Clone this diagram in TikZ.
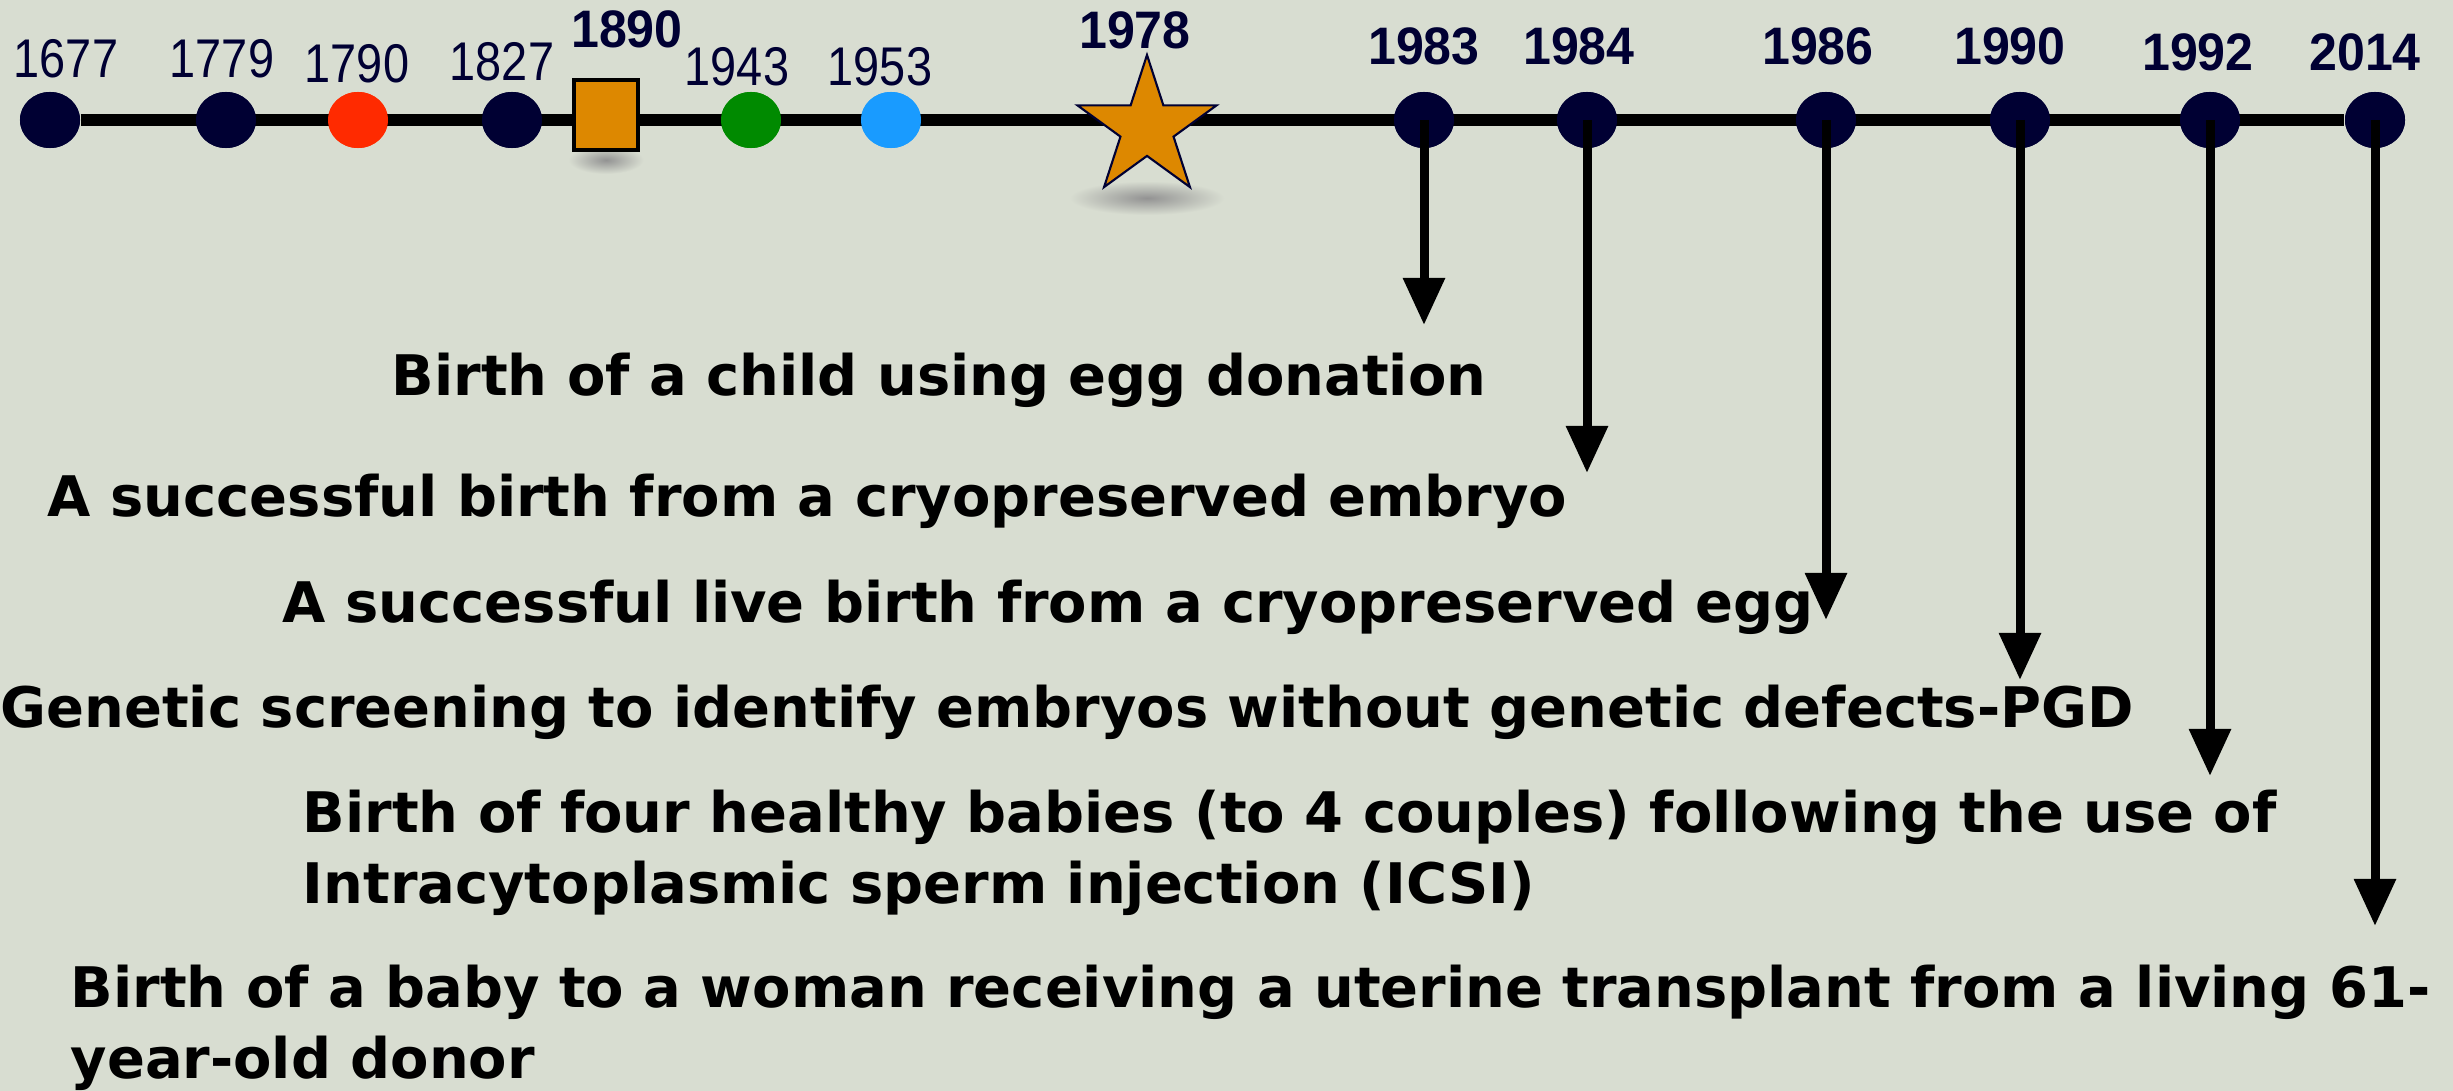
\documentclass[tikz,border=0pt]{standalone}
\usepackage{fontspec}
\usepackage{xcolor}
\usepackage{tikz}
\usetikzlibrary{shapes.geometric, arrows.meta}
\setmainfont{DejaVu Sans}
\newfontfamily\yearfont[FakeStretch=0.86]{Liberation Sans}
\newfontfamily\yearbold[FakeStretch=0.95]{Liberation Sans Bold}
\definecolor{bg}{RGB}{216,221,209}
\definecolor{navy}{RGB}{0,0,51}
\definecolor{dotred}{RGB}{255,42,0}
\definecolor{dotgreen}{RGB}{0,138,0}
\definecolor{dotblue}{RGB}{25,155,255}
\definecolor{gold}{RGB}{221,136,0}
\tikzstyle{dot} = [ellipse, minimum width=0.60cm, minimum height=0.56cm, inner sep=0, fill=navy]
\tikzstyle{year} = [font=\yearfont\fontsize{15.5}{15.5}\selectfont, text=navy, inner sep=0]
\tikzstyle{bigyear} = [font=\yearbold\fontsize{15}{15}\selectfont, text=navy, inner sep=0]
\tikzstyle{event} = [font=\bfseries\fontsize{15.9}{20.2}\selectfont, anchor=west, align=left, inner sep=0]
\tikzstyle{timeline} = [line width=0.12cm, black]
\tikzstyle{arrow} = [line width=0.09cm, -{Triangle[width=0.40cm, length=0.47cm]}]
\tikzstyle{groundshadow} = [ellipse, inner sep=0, shading=radial, inner color=gray!85, outer color=bg]

\begin{document}
\begin{tikzpicture}[x=0.01cm, y=-0.01cm]
\fill [bg] (0,0) rectangle (2453,1091);
\useasboundingbox (0,0) rectangle (2453,1091);

\node [groundshadow, minimum width=0.75cm, minimum height=0.28cm] at (606,160) {};
\node [groundshadow, minimum width=1.55cm, minimum height=0.34cm] at (1147,198) {};

\node (d1677) [dot] at (50,120) {};
\node (d1779) [dot] at (226,120) {};
\node (d1790) [dot, fill=dotred] at (358,120) {};
\node (d1827) [dot] at (512,120) {};
\node (d1943) [dot, fill=dotgreen] at (751,120) {};
\node (d1953) [dot, fill=dotblue] at (891,120) {};
\node (d1983) [dot] at (1424,120) {};
\node (d1984) [dot] at (1587,120) {};
\node (d1986) [dot] at (1826,120) {};
\node (d1990) [dot] at (2020,120) {};
\node (d1992) [dot] at (2210,120) {};
\node (d2014) [dot] at (2375,120) {};

\draw [timeline] (d1677) -- (d2014);
\foreach \d/\c in {1677/navy, 1779/navy, 1790/dotred, 1827/navy, 1943/dotgreen, 1953/dotblue, 1983/navy, 1984/navy, 1986/navy, 1990/navy, 1992/navy, 2014/navy}
  \fill [\c] (d\d.center) ellipse [x radius=30, y radius=28];

\node (s1890) [rectangle, minimum width=0.64cm, minimum height=0.70cm, inner sep=0, fill=gold, draw=black, line width=1.2pt] at (606,115) {};
\node (s1978) [star, star points=5, star point ratio=2.618, minimum size=1.46cm, inner sep=0, fill=gold, draw=navy, line width=0.6pt] at (1147,128) {};

\node (y1677) [year] at (66,59) {1677};
\node (y1779) [year] at (222,59) {1779};
\node (y1790) [year] at (357,64) {1790};
\node (y1827) [year] at (502,62) {1827};
\node (y1890) [bigyear] at (627,29) {1890};
\node (y1943) [year] at (737,67) {1943};
\node (y1953) [year] at (880,67) {1953};
\node (y1978) [bigyear] at (1135,30) {1978};
\node (y1983) [bigyear] at (1424,46) {1983};
\node (y1984) [bigyear] at (1579,46) {1984};
\node (y1986) [bigyear] at (1818,46) {1986};
\node (y1990) [bigyear] at (2010,46) {1990};
\node (y1992) [bigyear] at (2198,52) {1992};
\node (y2014) [bigyear] at (2365,52) {2014};

\coordinate (a1983) at (1424,325);
\coordinate (a1984) at (1587,473);
\coordinate (a1986) at (1826,620);
\coordinate (a1990) at (2020,680);
\coordinate (a1992) at (2210,776);
\coordinate (a2014) at (2375,926);

\draw [arrow] (d1983.center) -- (a1983);
\draw [arrow] (d1984.center) -- (a1984);
\draw [arrow] (d1986.center) -- (a1986);
\draw [arrow] (d1990.center) -- (a1990);
\draw [arrow] (d1992.center) -- (a1992);
\draw [arrow] (d2014.center) -- (a2014);

\node (e1983) [event] at (391,380) {Birth of a child using egg donation};
\node (e1984) [event] at (47,501) {A successful birth from a cryopreserved embryo};
\node (e1986) [event] at (282,607) {A successful live birth from a cryopreserved egg};
\node (e1990) [event] at (0,712) {Genetic screening to identify embryos without genetic defects-PGD};
\node (e1992) [event] at (302,853) {Birth of four healthy babies (to 4 couples) following the use of\\Intracytoplasmic sperm injection (ICSI)};
\node (e2014) [event] at (70,1028) {Birth of a baby to a woman receiving a uterine transplant from a living 61-\\year-old donor};
\end{tikzpicture}
\end{document}
